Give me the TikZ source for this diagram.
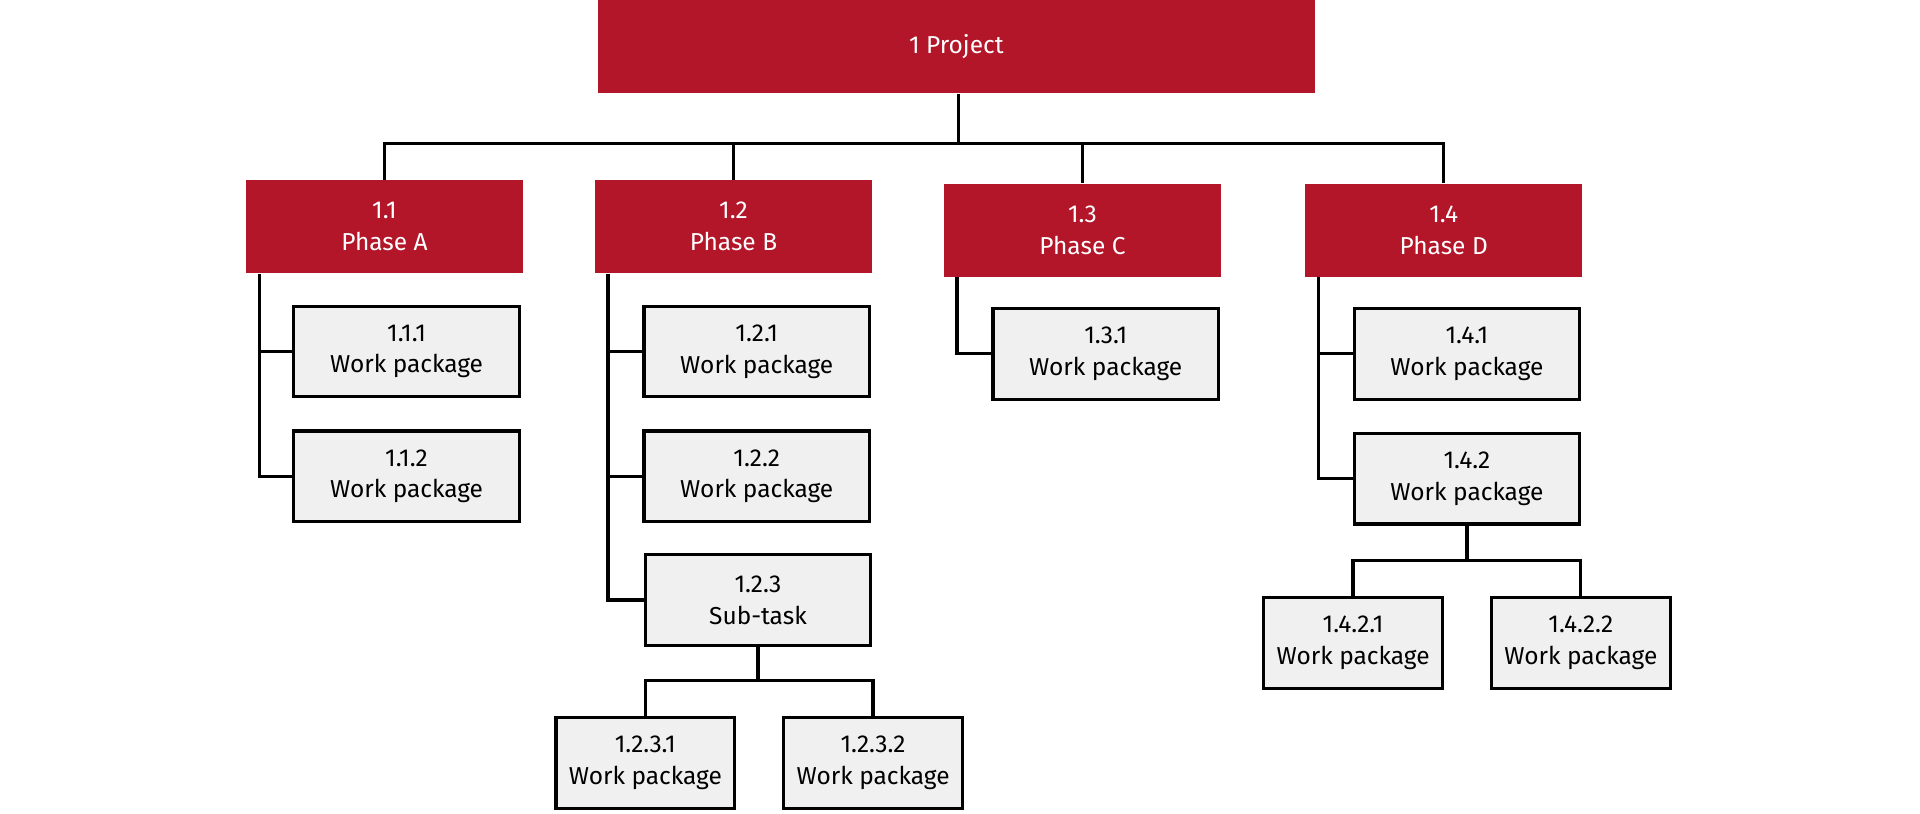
\documentclass[tikz,border=0pt]{standalone}
\usepackage{fontspec}
\setmainfont{Fira Sans}
\usetikzlibrary{positioning}
\usetikzlibrary{calc}
\usepackage{xcolor}
\definecolor{wbsred}{HTML}{B31529}
\definecolor{wbsgray}{HTML}{F0F0F0}
\begin{document}
\begin{tikzpicture}[
		x=0.5pt, y=-0.5pt,
		% Style definitions
		phase/.style={fill=wbsred, text=white, minimum width=113pt, minimum height=38pt, align=center, font=\fontsize{10}{13}\selectfont, inner sep=0pt},
		project/.style={phase, minimum width=293pt},
		wp/.style={draw, line width=1.3pt, fill=wbsgray, minimum width=92pt, minimum height=37pt, align=center, font=\fontsize{10}{13}\selectfont, inner sep=0pt},
		wpsmall/.style={wp, minimum width=73pt},
		link/.style={line width=1.3pt},
		]
		\useasboundingbox (0,0) rectangle (1568,664);

		% === Top ===
		\node[project] (proj) at (781,38) {1 Project};

		% === Phases ===
		\node[phase] (pa) at (314,185) {1.1\\Phase A};
		\node[phase] (pb) at (599,185) {1.2\\Phase B};
		\node[phase] (pc) at (884,188) {1.3\\Phase C};
		\node[phase] (pd) at (1179,188) {1.4\\Phase D};

		\coordinate (bus) at (783,117);
		\draw[link] (proj.south -| bus) -- (bus);
		\draw[link] (pa.north) |- (bus) -| (pd.north);
		\draw[link] (pb.north) -- (pb.north |- bus);
		\draw[link] (pc.north) -- (pc.north |- bus);

		% === Work packages ===
		\node[wp] (wa1) at (332,287) {1.1.1\\Work package};
		\node[wp] (wa2) at (332,389) {1.1.2\\Work package};
		\node[wp] (wb1) at (618,287) {1.2.1\\Work package};
		\node[wp] (wb2) at (618,389) {1.2.2\\Work package};
		\node[wp] (wb3) at (619,490) {1.2.3\\Sub-task};
		\node[wp] (wc1) at (903,289) {1.3.1\\Work package};
		\node[wp] (wd1) at (1198,289) {1.4.1\\Work package};
		\node[wp] (wd2) at (1198,391) {1.4.2\\Work package};

		\draw[link] (pa.south west) ++(11,0) coordinate (ta) |- (wa2.west);
		\draw[link] (ta |- wa1.west) -- (wa1.west);
		\draw[link] (pb.south west) ++(11,0) coordinate (tb) |- (wb3.west);
		\draw[link] (tb |- wb1.west) -- (wb1.west);
		\draw[link] (tb |- wb2.west) -- (wb2.west);
		\draw[link] (pc.south west) ++(11,0) |- (wc1.west);
		\draw[link] (pd.south west) ++(11,0) coordinate (td) |- (wd2.west);
		\draw[link] (td |- wd1.west) -- (wd1.west);

		% === Lowest level ===
		\node[wpsmall] (wb31) at (527,623) {1.2.3.1\\Work package};
		\node[wpsmall] (wb32) at (713,623) {1.2.3.2\\Work package};
		\node[wpsmall] (wd21) at (1105,525) {1.4.2.1\\Work package};
		\node[wpsmall] (wd22) at (1291,525) {1.4.2.2\\Work package};

		\coordinate (busb) at (619,556);
		\draw[link] (wb3.south) -- (busb);
		\draw[link] (wb31.north) |- (busb) -| (wb32.north);
		\coordinate (busd) at (1198,458);
		\draw[link] (wd2.south) -- (busd);
		\draw[link] (wd21.north) |- (busd) -| (wd22.north);
	\end{tikzpicture}
\end{document}
